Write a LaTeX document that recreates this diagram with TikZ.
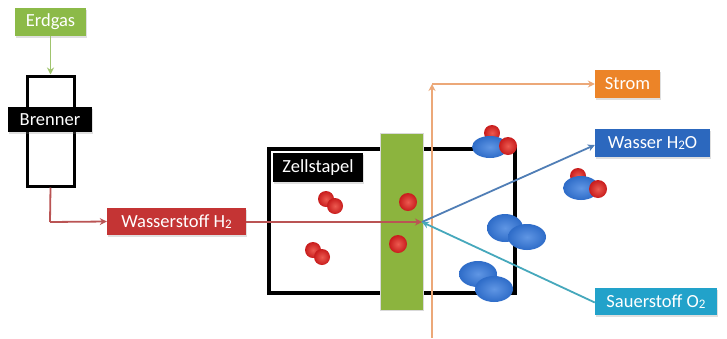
\documentclass[tikz,border=0pt]{standalone}
\usepackage{fontspec}
\setmainfont{Carlito}
\usetikzlibrary{arrows.meta,shadows}

\definecolor{gasgreen}{RGB}{140,186,72}
\definecolor{gasline}{RGB}{160,196,110}
\definecolor{hydred}{RGB}{196,52,52}
\definecolor{hydline}{RGB}{186,84,84}
\definecolor{powerorange}{RGB}{236,132,40}
\definecolor{powerline}{RGB}{236,168,120}
\definecolor{waterblue}{RGB}{44,104,190}
\definecolor{waterline}{RGB}{80,126,182}
\definecolor{oxteal}{RGB}{34,162,202}
\definecolor{oxline}{RGB}{70,168,188}
\definecolor{membrane}{RGB}{140,180,62}
\definecolor{atomred}{RGB}{200,28,28}
\definecolor{atomredlight}{RGB}{236,90,80}
\definecolor{atomblue}{RGB}{46,108,200}
\definecolor{atombluelight}{RGB}{96,150,228}

\newcommand\lowsub[1]{\raisebox{-0.2ex}{\fontsize{13}{13}\selectfont #1}}

\tikzset{
  label box/.style={rectangle, inner sep=0pt, text=white, font=\fontsize{18.5}{20}\selectfont,
    drop shadow={opacity=0.25, shadow xshift=1pt, shadow yshift=-1.5pt}},
  flow/.style={line width=1.8pt, -{Stealth[length=7pt,width=7pt]}},
  redatom/.style={inner color=atomredlight, outer color=atomred},
  blueatom/.style={inner color=atombluelight, outer color=atomblue},
}

\begin{document}
\begin{tikzpicture}[x=1pt,y=-1pt]
  \useasboundingbox[fill=white] (0,0) rectangle (727,338);

  % burner and its fuel supply
  \node[label box, fill=gasgreen, minimum width=71pt, minimum height=28pt] (erdgas) at (50.5,22) {Erdgas};
  \node[draw=black, line width=3pt, fill=white, minimum width=47pt, minimum height=110pt] (brenner) at (50.5,131) {};
  \node[label box, fill=black, minimum width=84pt, minimum height=25pt] (brennerlabel) at (50,119.5) {Brenner};
  \draw[flow, gasline] (erdgas.south) -- (brenner.north);

  % hydrogen
  \node[label box, fill=hydred, minimum width=139pt, minimum height=27pt] (wasserstoff) at (176.5,221.5) {Wasserstoff H\lowsub{2}};

  % cell stack
  \node[draw=black, line width=3.5pt, minimum width=246pt, minimum height=144pt,
        drop shadow={opacity=0.2, shadow xshift=1.5pt, shadow yshift=-1.5pt}, fill=white] (stack) at (392,221) {};
  \node[label box, fill=black, minimum width=90pt, minimum height=29pt] (stacklabel) at (318,167.5) {Zellstapel};
  \node[fill=membrane, draw=white!85!black, line width=0.8pt, minimum width=43pt, minimum height=177pt, inner sep=0pt,
        drop shadow={opacity=0.2, shadow xshift=1pt, shadow yshift=-1pt}] (bar) at (401.5,221.5) {};

  % output boxes
  \node[label box, fill=powerorange, minimum width=65pt, minimum height=28pt] (strom) at (627.5,84) {Strom};
  \node[label box, fill=waterblue, minimum width=115pt, minimum height=28pt] (wasser) at (652.5,143) {Wasser H\lowsub{2}O};
  \node[label box, fill=oxteal, minimum width=122pt, minimum height=27pt] (sauerstoff) at (656,301.5) {Sauerstoff O\lowsub{2}};

  \coordinate (junction) at (422,222);
  \coordinate (turn) at (50,222);
  \coordinate (wireb) at (432,338);
  \coordinate (wiret) at (432,84);

  % hydrogen path
  \draw[hydline, line width=1.8pt] (brenner.south) -- (turn);
  \draw[flow, hydline] (turn) -- (wasserstoff.west);
  \draw[flow, hydline] (wasserstoff.east |- junction) -- (junction);

  % electric current
  \draw[flow, powerline] (wireb) -- (wiret);
  \draw[flow, powerline] (wiret) -- (strom.west);

  % water and oxygen
  \draw[flow, waterline] (junction) -- ([yshift=-2pt]wasser.west);
  \draw[flow, oxline] ([yshift=-1pt]sauerstoff.west) -- (junction);

  % hydrogen molecules and ions
  \shade[redatom] (326,199) circle [radius=8];
  \shade[redatom] (335,206) circle [radius=8];
  \shade[redatom] (313,250) circle [radius=8];
  \shade[redatom] (322,257) circle [radius=8];
  \shade[redatom] (408,202) circle [radius=9];
  \shade[redatom] (398,244) circle [radius=9];

  % oxygen molecules
  \shade[blueatom] (505,228) ellipse [x radius=18, y radius=14];
  \shade[blueatom] (527,237) ellipse [x radius=19, y radius=13];
  \shade[blueatom] (478,274) ellipse [x radius=19, y radius=13];
  \shade[blueatom] (494,289) ellipse [x radius=19, y radius=13];

  % water molecules
  \shade[redatom] (492,133) circle [radius=8];
  \shade[blueatom] (490,147) ellipse [x radius=18, y radius=11];
  \shade[redatom] (508,146) circle [radius=9];

  \shade[redatom] (578,176) circle [radius=8];
  \shade[blueatom] (581,188) ellipse [x radius=18, y radius=12];
  \shade[redatom] (598,189) circle [radius=9];
\end{tikzpicture}
\end{document}
